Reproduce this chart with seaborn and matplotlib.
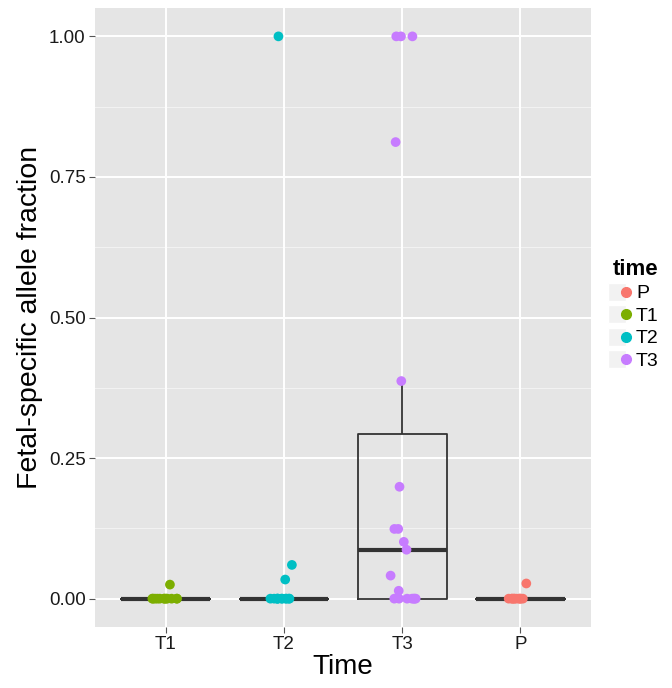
import numpy as np
import pandas as pd
import matplotlib
matplotlib.use("Agg")
import matplotlib.pyplot as plt
from matplotlib.lines import Line2D
from matplotlib.legend_handler import HandlerTuple
import seaborn as sns

# values (fetal-specific allele fraction per sample)
t1_vals = [0.0] * 12 + [0.025]
t2_vals = [0.0] * 11 + [0.034, 0.06, 1.0]
t3_vals = [0.0] * 7 + [0.014, 0.041, 0.087, 0.101, 0.124, 0.124,
                       0.199, 0.387, 0.812, 1.0, 1.0, 1.0]
p_vals = [0.0] * 10 + [0.027]

x_order = ["T1", "T2", "T3", "P"]
hue_order = ["P", "T1", "T2", "T3"]
palette = {"P": "#F8766D", "T1": "#7CAE00", "T2": "#00BFC4", "T3": "#C77CFF"}
y_ticks = [0.0, 0.25, 0.50, 0.75, 1.00]

df = pd.DataFrame({
    "time": ["T1"] * len(t1_vals) + ["T2"] * len(t2_vals)
            + ["T3"] * len(t3_vals) + ["P"] * len(p_vals),
    "fraction": t1_vals + t2_vals + t3_vals + p_vals,
})

plt.rcParams["font.family"] = ["Liberation Sans", "DejaVu Sans"]

fig = plt.figure(figsize=(6.72, 6.88), dpi=100)
ax = fig.add_axes([0.141, 0.089, 0.739, 0.899])
ax.set_facecolor("#E5E5E5")

# grid, ggplot style
for v in np.arange(-0.125, 1.2, 0.25):
    ax.axhline(v, color="#F2F2F2", lw=0.8, zorder=0)
for v in y_ticks:
    ax.axhline(v, color="white", lw=1.4, zorder=0)
for i in range(len(x_order)):
    ax.axvline(i, color="white", lw=1.4, zorder=0)

sns.boxplot(data=df, x="time", y="fraction", order=x_order, ax=ax,
            fill=False, color="#333333", width=0.75, showfliers=False,
            linewidth=1.3, whis=1.5,
            medianprops={"linewidth": 3, "color": "#333333"},
            capprops={"linewidth": 0})

np.random.seed(3)
sns.stripplot(data=df, x="time", y="fraction", order=x_order, hue="time",
              hue_order=hue_order, palette=palette, jitter=0.12, size=7,
              linewidth=0, ax=ax, legend=False, zorder=3)

ax.set_xlim(-0.6, 3.6)
ax.set_ylim(-0.05, 1.05)
ax.set_yticks(y_ticks)
ax.set_yticklabels([f"{v:.2f}" for v in y_ticks])
ax.tick_params(axis="both", labelsize=13.5, color="#555555", length=4.5,
               width=0.8, pad=2, labelcolor="#1a1a1a")
for s in ax.spines.values():
    s.set_visible(False)
ax.set_xlabel("Time", fontsize=20, labelpad=1)
ax.set_ylabel("Fetal-specific allele fraction", fontsize=20.5, labelpad=4)
ax.grid(False)

handles = [(Line2D([0], [0], marker="s", ls="", markersize=13,
                   markerfacecolor="#F2F2F2", markeredgecolor="white"),
            Line2D([0], [0], marker="o", ls="", color=palette[h],
                   markersize=7)) for h in hue_order]
leg = fig.legend(handles, hue_order, loc="upper left",
                 bbox_to_anchor=(0.9, 0.635), frameon=False,
                 fontsize=14, title="time", handletextpad=0.3,
                 labelspacing=0.25, borderaxespad=0, handlelength=0.9,
                 handler_map={tuple: HandlerTuple(ndivide=None, pad=0)})
leg.get_title().set_fontweight("bold")
leg.get_title().set_fontsize(16)
leg._legend_box.align = "left"

fig.savefig("out.png", dpi=100)
